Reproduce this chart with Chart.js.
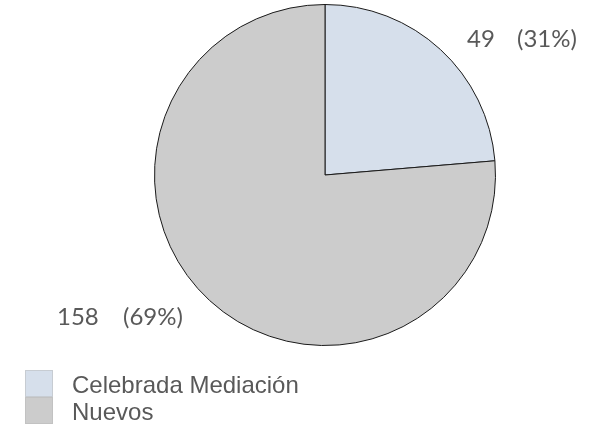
<!DOCTYPE html>
<html>
<head>
<meta charset="utf-8">
<script src="https://cdn.jsdelivr.net/npm/chart.js@4.4.0/dist/chart.umd.min.js"></script>
<style>
  html, body { margin: 0; padding: 0; background: #fff; }
  #wrap { position: relative; width: 607px; height: 426px; }
</style>
</head>
<body>
<div id="wrap"><canvas id="pie" width="607" height="426"></canvas></div>
<script>
// chart data
const categories = ['Celebrada Mediación', 'Nuevos'];
const values = [49, 158];
const countLabels = ['49', '158'];
const shareLabels = ['(31%)', '(69%)'];
const sliceColors = ['#D6DFEB', '#CCCCCC'];

// label anchors relative to the pie centre: [count x, share x, baseline y]
const labelOffsets = [[142, 192, -128], [-268, -202, 150]];

const sliceLabels = {
  id: 'sliceLabels',
  afterDraw(chart) {
    const ctx = chart.ctx;
    const arc = chart.getDatasetMeta(0).data[0];
    ctx.save();
    ctx.font = '24px Lato, "Open Sans", sans-serif';
    ctx.fillStyle = '#595959';
    ctx.textAlign = 'left';
    ctx.textBaseline = 'alphabetic';
    countLabels.forEach(function (t, i) {
      const o = labelOffsets[i];
      ctx.fillText(t, arc.x + o[0], arc.y + o[2]);
      ctx.fillText(shareLabels[i], arc.x + o[1], arc.y + o[2]);
    });

    // legend
    ctx.font = '24px "Liberation Sans", Arial, sans-serif';
    categories.forEach(function (c, i) {
      const y = 370 + i * 27;
      ctx.fillStyle = sliceColors[i];
      ctx.fillRect(25, y, 28, 27);
      ctx.setLineDash([1, 1]);
      ctx.strokeStyle = '#b8b8b8';
      ctx.lineWidth = 1;
      ctx.strokeRect(25.5, y + 0.5, 27, 26);
      ctx.setLineDash([]);
      ctx.fillStyle = '#595959';
      ctx.fillText(c, 72, y + 23);
    });
    ctx.restore();
  }
};

new Chart(document.getElementById('pie').getContext('2d'), {
  type: 'pie',
  data: {
    labels: categories,
    datasets: [{
      data: values,
      backgroundColor: sliceColors,
      borderColor: '#1a1a1a',
      borderWidth: 1
    }]
  },
  options: {
    responsive: false,
    animation: false,
    layout: { padding: { left: 154, right: 111, top: 4, bottom: 80 } },
    plugins: {
      legend: { display: false },
      tooltip: { enabled: false }
    }
  },
  plugins: [sliceLabels]
});
</script>
</body>
</html>
